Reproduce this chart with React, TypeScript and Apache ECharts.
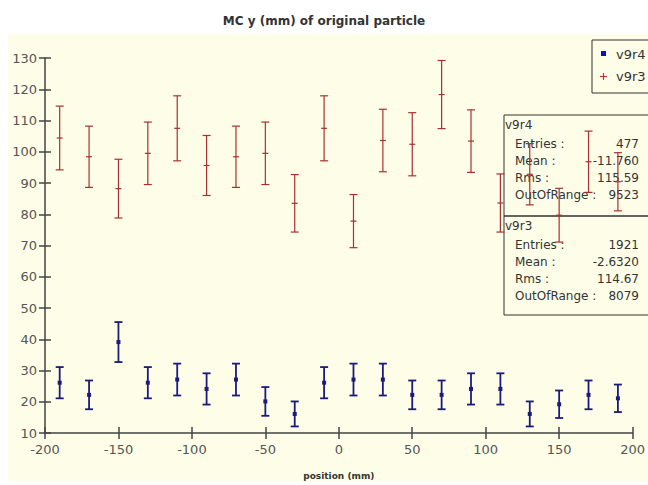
import React, { useEffect, useRef } from "react";
import * as echarts from "echarts";

const binCenters = [-190, -170, -150, -130, -110, -90, -70, -50, -30, -10, 10, 30, 50, 70, 90, 110, 130, 150, 170, 190];
const v9r3Values = [104.4, 98.4, 88.2, 99.5, 107.5, 95.6, 98.4, 99.5, 83.5, 107.5, 77.8, 103.6, 102.4, 118.3, 103.4, 83.6, 92.8, 79.7, 96.8, 90.4];
const v9r3Errors = [10.2, 9.8, 9.4, 10.0, 10.4, 9.6, 9.8, 10.0, 9.2, 10.4, 8.5, 10.0, 10.1, 10.9, 10.0, 9.3, 9.8, 8.6, 9.8, 9.3];
const v9r4Values = [26.1, 22.2, 39.1, 26.1, 27.1, 24.1, 27.1, 20.1, 16.1, 26.1, 27.1, 27.1, 22.2, 22.2, 24.1, 24.1, 16.1, 19.2, 22.2, 21.1];
const v9r4Errors = [5.0, 4.6, 6.4, 5.0, 5.1, 5.0, 5.1, 4.6, 4.0, 5.0, 5.1, 5.1, 4.6, 4.6, 5.0, 5.0, 4.0, 4.4, 4.6, 4.4];

const xTicks = { min: -200, max: 200, interval: 50 };
const yTicks = { min: 10, max: 130, interval: 10 };

const titleText = "MC y (mm) of original particle";
const xAxisName = "position (mm)";

const statsV9r4 = [["Entries :", "477"], ["Mean :", "-11.760"], ["Rms :", "115.59"], ["OutOfRange :", "9523"]];
const statsV9r3 = [["Entries :", "1921"], ["Mean :", "-2.6320"], ["Rms :", "114.67"], ["OutOfRange :", "8079"]];

const RED = "#a83030";
const BLUE = "#1a1a80";
const FONT = "DejaVu Sans";

function makeRender(color: string, lw: number, marker: "square" | "plus") {
  return (params: any, api: any) => {
    const x = api.value(0);
    const v = api.value(1);
    const e = api.value(2);
    const c = api.coord([x, v]);
    const t = api.coord([x, v + e]);
    const b = api.coord([x, v - e]);
    const cap = 4;
    const style = { stroke: color, lineWidth: lw };
    const children: any[] = [
      { type: "line", shape: { x1: c[0], y1: t[1], x2: c[0], y2: b[1] }, style },
      { type: "line", shape: { x1: c[0] - cap, y1: t[1], x2: c[0] + cap, y2: t[1] }, style },
      { type: "line", shape: { x1: c[0] - cap, y1: b[1], x2: c[0] + cap, y2: b[1] }, style },
    ];
    if (marker === "square") {
      children.push({ type: "rect", shape: { x: c[0] - 2, y: c[1] - 2, width: 4, height: 4 }, style: { fill: color } });
    } else {
      children.push({ type: "line", shape: { x1: c[0] - 3, y1: c[1], x2: c[0] + 3, y2: c[1] }, style: { stroke: color, lineWidth: 1.2 } });
    }
    return { type: "group", children };
  };
}

function statsBox(name: string, rows: string[][], top: number, height: number) {
  const left = 504;
  const els: any[] = [
    { type: "rect", shape: { x: left, y: top, width: 150, height }, style: { fill: "transparent", stroke: "#333", lineWidth: 1 }, z: 0 },
    { type: "text", x: left + 1, y: top + 10, style: { text: name, font: `12px '${FONT}'`, fill: "#333", verticalAlign: "middle" }, z: 0 },
  ];
  rows.forEach((r, i) => {
    const y = top + 29 + i * 17;
    els.push({ type: "text", x: left + 11, y, style: { text: r[0], font: `12px '${FONT}'`, fill: "#333", verticalAlign: "middle" }, z: 0 });
    els.push({ type: "text", x: 639, y, style: { text: r[1], font: `12px '${FONT}'`, fill: "#333", align: "right", verticalAlign: "middle" }, z: 0 });
  });
  return els;
}

export default function App() {
  const ref = useRef<HTMLDivElement>(null);
  useEffect(() => {
    if (!ref.current) return;
    const chart = echarts.init(ref.current, null, { renderer: "svg" });
    const axisLineStyle = { color: "#444", width: 1.5 };
    const labelStyle = { fontFamily: FONT, fontSize: 13, color: "#555" };
    chart.setOption({
      animation: false,
      backgroundColor: "transparent",
      title: {
        text: titleText,
        left: "center",
        top: 10,
        textStyle: { fontFamily: FONT, fontSize: 12, fontWeight: "bold", color: "#333" },
      },
      grid: { left: 45, right: 14, top: 58, bottom: 48, containLabel: false },
      xAxis: [
        {
          type: "value", ...xTicks, position: "bottom",
          axisLine: { show: true, onZero: false, lineStyle: axisLineStyle },
          axisTick: { show: true, inside: false, length: 6, lineStyle: axisLineStyle },
          axisLabel: { ...labelStyle, margin: 10 },
          splitLine: { show: false },
          name: xAxisName, nameLocation: "middle", nameGap: 38,
          nameTextStyle: { fontFamily: FONT, fontSize: 9, fontWeight: "bold", color: "#333" },
        },
        {
          type: "value", ...xTicks, position: "bottom",
          axisLine: { show: false, onZero: false },
          axisTick: { show: true, inside: true, length: 6, lineStyle: axisLineStyle },
          axisLabel: { show: false },
          splitLine: { show: false },
        },
      ],
      yAxis: [
        {
          type: "value", ...yTicks, position: "left",
          axisLine: { show: true, onZero: false, lineStyle: axisLineStyle },
          axisTick: { show: true, inside: false, length: 6, lineStyle: axisLineStyle },
          axisLabel: { ...labelStyle, margin: 8 },
          splitLine: { show: false },
        },
        {
          type: "value", ...yTicks, position: "left",
          axisLine: { show: false, onZero: false },
          axisTick: { show: true, inside: true, length: 6, lineStyle: axisLineStyle },
          axisLabel: { show: false },
          splitLine: { show: false },
        },
      ],
      series: [
        {
          name: "v9r4", type: "custom", z: 10,
          data: binCenters.map((x, i) => [x, v9r4Values[i], v9r4Errors[i]]),
          encode: { x: 0, y: 1 },
          renderItem: makeRender(BLUE, 1.8, "square"),
        },
        {
          name: "v9r3", type: "custom", z: 10,
          data: binCenters.map((x, i) => [x, v9r3Values[i], v9r3Errors[i]]),
          encode: { x: 0, y: 1 },
          renderItem: makeRender(RED, 1.2, "plus"),
        },
      ],
      graphic: [
        { type: "rect", shape: { x: 592, y: 40, width: 60, height: 53 }, style: { fill: "transparent", stroke: "#333", lineWidth: 1 }, z: 0 },
        { type: "rect", shape: { x: 601, y: 51, width: 5, height: 5 }, style: { fill: "#1010c0" }, z: 0 },
        { type: "text", x: 616, y: 54, style: { text: "v9r4", font: `13px '${FONT}'`, fill: "#333", verticalAlign: "middle" }, z: 0 },
        { type: "line", shape: { x1: 600, y1: 76.5, x2: 607, y2: 76.5 }, style: { stroke: "#d03030", lineWidth: 1.2 }, z: 0 },
        { type: "line", shape: { x1: 603.5, y1: 73, x2: 603.5, y2: 80 }, style: { stroke: "#d03030", lineWidth: 1.2 }, z: 0 },
        { type: "text", x: 616, y: 76.5, style: { text: "v9r3", font: `13px '${FONT}'`, fill: "#333", verticalAlign: "middle" }, z: 0 },
        ...statsBox("v9r4", statsV9r4, 115, 101),
        ...statsBox("v9r3", statsV9r3, 216, 99),
      ],
    });
    return () => chart.dispose();
  }, []);

  return (
    <div style={{ position: "fixed", left: 0, top: 0, width: 648, height: 485, background: "#ffffff" }}>
      <div style={{ position: "absolute", left: 8, top: 34, width: 640, height: 447, background: "#fefee8" }} />
      <div ref={ref} style={{ position: "absolute", left: 0, top: 0, width: 648, height: 485 }} />
    </div>
  );
}
